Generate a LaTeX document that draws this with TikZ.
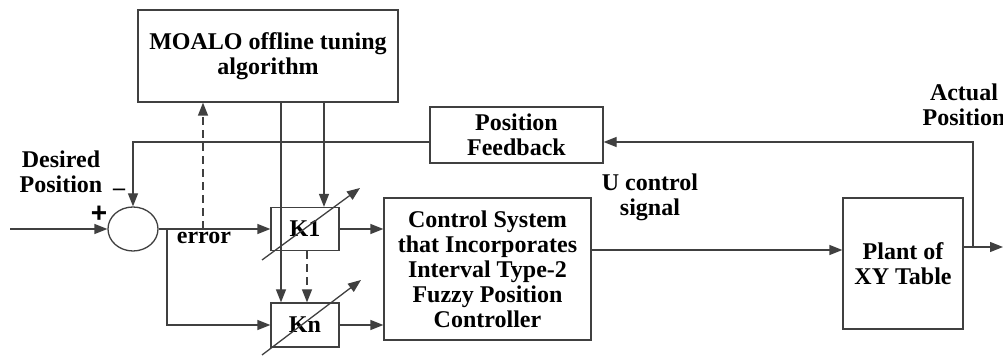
\documentclass[tikz,border=0pt]{standalone}
\usepackage{fontspec}
\setmainfont{Liberation Serif}
\newfontfamily\signfont{Liberation Sans}
\usepackage{tikz}
\usetikzlibrary{arrows.meta, shapes}

\begin{document}
\begin{tikzpicture}[x=0.5pt,y=-0.5pt]
			\tikzstyle{every node} = [font = \fontsize{12}{12.5}\selectfont\bfseries, align = center]
			\tikzstyle{blk} = [draw = black!75, line width = 0.65pt, rectangle, inner sep = 0pt]
			\tikzstyle{wire} = [draw = black!75, line width = 0.65pt, >={Triangle[length=6.5pt,width=5pt]}]
			\tikzstyle{tune} = [wire, dash pattern = on 4pt off 2.5pt]
				\useasboundingbox (0,0) rectangle (1003,356);
				\node[blk, minimum width = 130pt, minimum height = 46pt] (algo) at (268,56)
					{MOALO offline tuning\\algorithm};
				\node[blk, minimum width = 86.5pt, minimum height = 28pt] (fb) at (516.5,135)
					{Position\\Feedback};
				\node[blk, minimum width = 34pt, minimum height = 21.5pt] (kone) at (305,229) {K1};
				\node[blk, minimum width = 34pt, minimum height = 22pt] (kn) at (305,325) {Kn};
				\node[blk, minimum width = 103.5pt, minimum height = 71pt] (ctrl) at (487.5,269)
					{Control System\\that Incorporates\\Interval Type-2\\Fuzzy Position\\Controller};
				\node[blk, minimum width = 60pt, minimum height = 65.5pt] (plant) at (903,263.5)
					{Plant of\\XY Table};
				\node[blk, ellipse, minimum width = 25pt, minimum height = 22pt] (sum) at (133,229) {};
				\node (des) at (61,172) {Desired\\Position};
				\node[font = \fontsize{14}{14}\selectfont\signfont\bfseries] (plus) at (99,214) {+};
				\node (minus) at (119,192) {--};
				\node (err) at (204,238) {error};
				\node (ulab) at (650,197) {U control\\signal};
				\node (act) at (964,105) {Actual\\Position};
				\coordinate (in) at (10,229);
				\coordinate (br) at (167,229);
				\coordinate (ulev) at (0,250);
				\coordinate (out) at (1003,247);
				\coordinate (tap) at (973,247);
				\coordinate (fbl) at (0,142);
				\coordinate (ka) at (281,0);
				\coordinate (kb) at (324,0);
				\coordinate (kd) at (307,0);
				\coordinate (ed) at (203,0);
				\path[wire,->] (in) -- (sum.west);
				\path[wire,->] (sum.east) -- (kone.west);
				\path[wire,->] (br) -- (br |- kn.west) -- (kn.west);
				\path[wire,->] (kone.east) -- (ctrl.west |- kone.east);
				\path[wire,->] (kn.east) -- (ctrl.west |- kn.east);
				\path[wire,->] (ctrl.east |- ulev) -- (plant.west |- ulev);
				\path[wire,->] (plant.east |- out) -- (out);
				\path[wire,->] (tap) -- (tap |- fbl) -- (fb.east |- fbl);
				\path[wire,->] (fb.west |- fbl) -- (sum.north |- fbl) -- (sum.north);
				\path[wire,->] (algo.south -| ka) -- (kn.north -| ka);
				\path[wire,->] (algo.south -| kb) -- (kone.north -| kb);
				\path[tune,->] (kone.south -| kd) -- (kn.north -| kd);
				\path[tune,->] (sum.east -| ed) -- (algo.south -| ed);
				\path[wire,->,shift = {(kone.center)}] (-43,31) -- (55,-41);
				\path[wire,->,shift = {(kn.center)}] (-43,30) -- (56,-45);
\end{tikzpicture}
\end{document}
